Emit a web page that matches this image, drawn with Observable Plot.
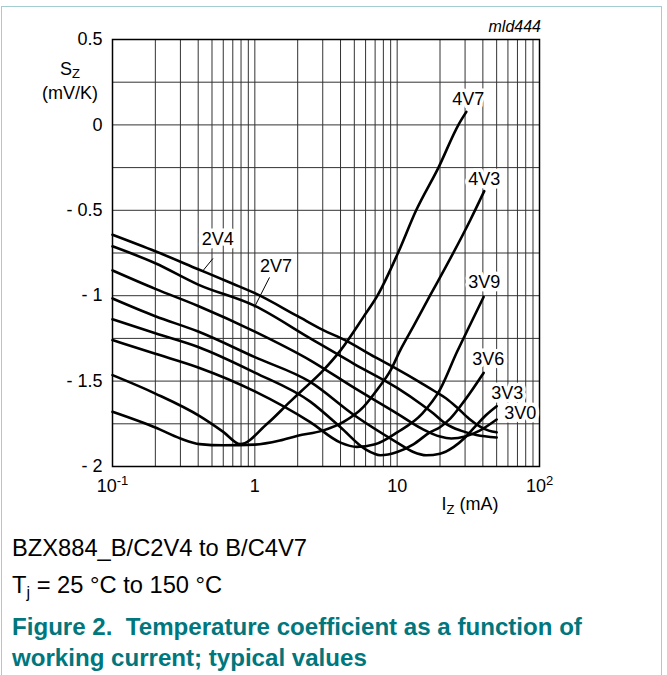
<!DOCTYPE html>
<html><head><meta charset="utf-8">
<script src="https://cdn.jsdelivr.net/npm/d3@7"></script>
<script src="https://cdn.jsdelivr.net/npm/@observablehq/plot@0.6"></script>
<style>
body{margin:0;background:#fff;font-family:"Liberation Sans",Arial,sans-serif;}
#wrap{position:relative;width:667px;height:675px;overflow:hidden;background:#fff;}
#box{position:absolute;left:1px;top:6px;width:659px;height:720px;border:1.5px solid #a3cdd0;}
#chart{position:absolute;left:0;top:0;}
.cap{position:absolute;left:12px;font-size:23.7px;line-height:24px;white-space:nowrap;color:#000;}
.cap sub{font-size:16px;vertical-align:-5px;line-height:0;}
.ttl{position:absolute;left:12px;font-size:24.1px;line-height:24px;font-weight:bold;white-space:nowrap;color:#00767d;}
</style></head>
<body>
<div id="wrap">
<div id="box"></div>
<div id="chart"></div>
<div class="cap" style="top:536px">BZX884_B/C2V4 to B/C4V7</div>
<div class="cap" style="top:573px">T<sub>j</sub> = 25 °C to 150 °C</div>
<div class="ttl" style="top:615px">Figure 2.&nbsp; Temperature coefficient as a function of</div>
<div class="ttl" style="top:646px">working current; typical values</div>
</div>
<script>
// Series: [I_Z (mA), S_Z (mV/K)]
const c2V4 = [[0.1,-0.643],[0.2,-0.74],[0.4,-0.845],[0.7,-0.93],[1,-0.985],[2,-1.12],[3,-1.2],[4.3,-1.26],[7,-1.36],[10,-1.43],[14,-1.5],[18,-1.555],[22,-1.6],[26,-1.65],[32,-1.72],[38,-1.765],[44,-1.79],[50,-1.8]];
const c2V7 = [[0.1,-0.711],[0.2,-0.81],[0.4,-0.935],[1,-1.06],[2.45,-1.25],[5,-1.4],[10,-1.54],[15,-1.64],[18,-1.69],[22,-1.75],[28,-1.79],[36,-1.815],[50,-1.83]];
const c3V0 = [[0.1,-0.852],[0.2,-0.96],[0.4,-1.06],[1,-1.21],[2.45,-1.378],[5,-1.54],[10,-1.69],[15,-1.78],[20,-1.825],[24,-1.836],[30,-1.825],[38,-1.79],[50,-1.725]];
const c3V3 = [[0.1,-1.016],[0.2,-1.12],[0.4,-1.21],[1,-1.36],[2.45,-1.505],[5,-1.7],[10,-1.86],[13,-1.915],[16,-1.934],[20,-1.925],[25,-1.885],[30,-1.83],[35,-1.77],[42,-1.7],[50,-1.647]];
const c3V6 = [[0.1,-1.138],[0.2,-1.22],[0.4,-1.3],[1,-1.45],[2.45,-1.62],[4,-1.77],[6,-1.9],[7.6,-1.934],[10,-1.915],[13,-1.87],[17,-1.8],[20,-1.77],[23.6,-1.72],[30,-1.61],[40.5,-1.452]];
const c3V9 = [[0.1,-1.26],[0.2,-1.34],[0.4,-1.42],[1,-1.56],[2.45,-1.74],[4,-1.86],[5.2,-1.885],[7,-1.87],[10,-1.8],[15,-1.69],[20,-1.55],[26.3,-1.33],[33,-1.16],[40.5,-1.007]];
const c4V3 = [[0.1,-1.68],[0.2,-1.772],[0.3,-1.836],[0.41,-1.869],[0.6,-1.876],[1,-1.872],[1.5,-1.848],[2,-1.82],[3,-1.79],[4.2,-1.739],[5.8,-1.651],[7.2,-1.553],[9,-1.436],[10.5,-1.32],[13,-1.18],[17,-1.0],[22,-0.83],[32.6,-0.558],[40.9,-0.388]];
const c4V7 = [[0.1,-1.465],[0.2,-1.573],[0.41,-1.705],[0.6,-1.797],[0.79,-1.869],[1.22,-1.75],[1.77,-1.62],[2.08,-1.565],[3,-1.44],[4,-1.32],[5.8,-1.124],[7.3,-0.997],[10.1,-0.753],[13.6,-0.5],[19.5,-0.25],[27,0.002],[30.6,0.076]];
const names = ["2V4","2V7","3V0","3V3","3V6","3V9","4V3","4V7"];
const curves = [c2V4,c2V7,c3V0,c3V3,c3V6,c3V9,c4V3,c4V7];

// Curve labels (data-space positions)
const labelNames = ["4V7","4V3","3V9","3V6","3V3","3V0","2V4","2V7"];
const labelI = [31.6,40.9,40.9,43.7,59.4,73.3,0.548,1.41];
const labelS = [0.153,-0.318,-0.921,-1.372,-1.571,-1.688,-0.672,-0.827];
// Leader lines for 2V4, 2V7
const leaderI1 = [0.508,1.268], leaderS1 = [-0.782,-0.893];
const leaderI2 = [0.425,0.991], leaderS2 = [-0.861,-1.069];

// Ticks
const yTicks = [0.5,0,-0.5,-1,-1.5,-2];
const xTicks = [0.1,1,10,100];
const xTickText = ["10|-1","1","10","10|2"];
const gridY = [0.5,0.25,0,-0.25,-0.5,-0.75,-1,-1.25,-1.5,-1.75,-2];
const gridX = [-1,0,1].flatMap(e => [1,2,3,4,5,6,7,8,9].map(m => m*Math.pow(10,e))).concat([100]);

const rows = names.flatMap((n,k) => curves[k].map(([I,S]) => ({name:n, I, S})));
const labels = labelNames.map((t,i) => ({t, I:labelI[i], S:labelS[i]}));
const leaders = leaderI1.map((v,i) => ({x1:v, y1:leaderS1[i], x2:leaderI2[i], y2:leaderS2[i]}));

const chart = Plot.plot({
  width: 667, height: 520,
  marginLeft: 112, marginRight: 128, marginTop: 39, marginBottom: 54,
  x: {type:"log", domain:[0.1,100], axis:null},
  y: {domain:[-2,0.5], axis:null},
  style: {fontFamily:"'Liberation Sans', Arial, sans-serif", fontSize:"18px", background:"transparent", color:"#000"},
  marks: [
    Plot.ruleX(gridX, {x:d=>d, stroke:"#333", strokeWidth:1}),
    Plot.ruleY(gridY, {y:d=>d, stroke:"#333", strokeWidth:1}),
    Plot.frame({stroke:"#000", strokeWidth:1.5}),
    Plot.line(rows, {x:"I", y:"S", z:"name", curve:"monotone-x", stroke:"#000", strokeWidth:2.6}),
    Plot.link(leaders, {x1:"x1", y1:"y1", x2:"x2", y2:"y2", stroke:"#000", strokeWidth:1}),
    Plot.text(labels, {x:"I", y:"S", text:"t", fontSize:18, fill:"#000", stroke:"#fff", strokeWidth:7}),
    Plot.text(yTicks, {y:d=>d, text:d => d < 0 ? "- " + (-d) : String(d), frameAnchor:"left", textAnchor:"end", dx:-10, fontSize:18, fill:"#000"}),
    Plot.text(xTicks, {x:d=>d, text:(d,i) => xTickText[i], frameAnchor:"bottom", dy:25, fontSize:18, fill:"#000"})
  ]
});

const svg = d3.select(chart);
svg.selectAll("text").each(function(){
  const t = this.textContent;
  if (t.includes("|")) {
    const [b, s] = t.split("|");
    const sel = d3.select(this);
    sel.text(b);
    sel.append("tspan").attr("dy", -7).attr("font-size", 13).text(s);
  }
});
const sz = svg.append("text").attr("x",70).attr("y",75).attr("text-anchor","middle").attr("font-size",18);
sz.append("tspan").text("S");
sz.append("tspan").attr("dy",3).attr("font-size",13).text("Z");
svg.append("text").attr("x",70).attr("y",99).attr("text-anchor","middle").attr("font-size",18).text("(mV/K)");
const iz = svg.append("text").attr("x",470).attr("y",510).attr("text-anchor","middle").attr("font-size",18);
iz.append("tspan").text("I");
iz.append("tspan").attr("dy",4).attr("font-size",13).text("Z");
iz.append("tspan").attr("dy",-4).text(" (mA)");
svg.append("text").attr("x",541).attr("y",32).attr("text-anchor","end").attr("font-style","italic").attr("font-size",16).text("mld444");

document.getElementById("chart").appendChild(chart);
</script>
</body></html>
